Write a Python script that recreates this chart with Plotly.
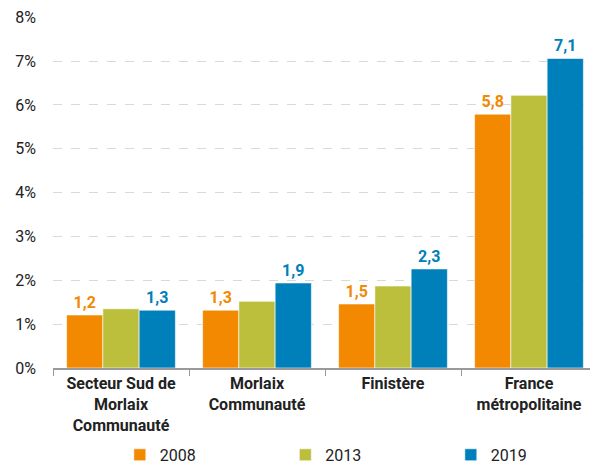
import plotly.graph_objects as go

categories = ["Secteur Sud de<br>Morlaix<br>Communauté", "Morlaix<br>Communauté", "Finistère", "France<br>métropolitaine"]
years = ["2008", "2013", "2019"]
v2008 = [1.21, 1.32, 1.46, 5.79]
v2013 = [1.35, 1.52, 1.87, 6.22]
v2019 = [1.32, 1.94, 2.26, 7.06]
yticks = [0, 1, 2, 3, 4, 5, 6, 7, 8]

colors = ["#F28900", "#BBBF3C", "#0080BB"]
series = [v2008, v2013, v2019]
show_labels = [True, False, True]

def fr(v):
    return f"{v:.1f}".replace(".", ",")

fig = go.Figure()
for name, vals, col, lab in zip(years, series, colors, show_labels):
    fig.add_trace(go.Bar(
        x=categories, y=vals, name=name,
        marker=dict(color=col, line=dict(color="rgba(255,255,255,0.6)", width=1)),
        text=[fr(v) for v in vals] if lab else None,
        textposition="outside" if lab else "none",
        textfont=dict(family="Roboto", size=16, color=col, weight="bold"),
        cliponaxis=False,
        hoverinfo="skip",
    ))

# the page body has an 8px default margin, so the margins below are shifted by 8px
fig.update_layout(
    width=598, height=465,
    margin=dict(l=45, r=9, t=9, b=105, autoexpand=False),
    barmode="group", bargap=0.2, bargroupgap=0,
    plot_bgcolor="white", paper_bgcolor="white",
    font=dict(family="Roboto", size=16, color="#222"),
    showlegend=True,
    legend=dict(orientation="h", xref="container", yref="container", x=0.187, xanchor="left",
                y=0.039, yanchor="middle", bgcolor="rgba(0,0,0,0)",
                entrywidth=120.5, entrywidthmode="pixels", itemwidth=30,
                font=dict(family="Roboto", size=16, color="#222"), traceorder="normal"),
)
fig.update_xaxes(
    type="category", showline=True, linecolor="#999", linewidth=1.5,
    ticks="outside", tickson="boundaries", ticklen=6, tickcolor="#999",
    tickfont=dict(family="Roboto", size=16, color="#222", weight="bold"),
    showgrid=False, automargin=False,
)
fig.update_yaxes(
    range=[0, 8.006], tickvals=yticks, ticktext=[f"{t}%" for t in yticks],
    showgrid=True, gridcolor="#D9D9D9", griddash="dash", gridwidth=1,
    zeroline=False, showline=False, ticks="", ticklabelstandoff=16,
    ticklabeloverflow="allow",
    tickfont=dict(family="Roboto", size=16, color="#222"), automargin=False,
)

fig.write_html("out.html")
